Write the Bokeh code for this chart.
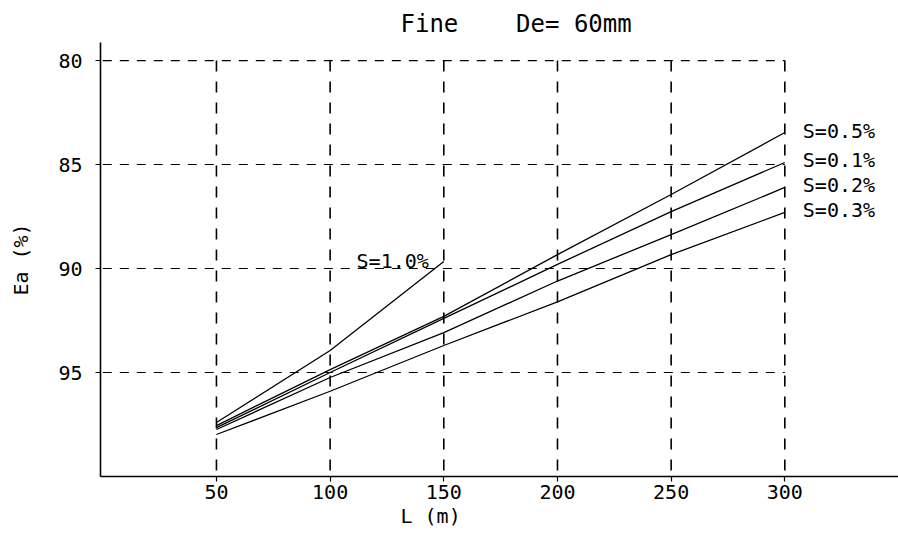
from bokeh.plotting import figure
from bokeh.models import Range1d, FixedTicker, Title, ColumnDataSource
from bokeh.core.properties import value
from bokeh.embed import file_html
from bokeh.resources import INLINE

# ---- data ----
L = [50, 100, 150, 200, 250, 300]
ea_s01 = [97.65, 95.00, 92.40, 89.80, 87.26, 84.90]
ea_s02 = [97.74, 95.24, 93.08, 90.60, 88.37, 86.10]
ea_s03 = [97.98, 95.90, 93.70, 91.60, 89.33, 87.30]
ea_s05 = [97.55, 94.86, 92.30, 89.33, 86.44, 83.46]
L_s10 = [50, 100, 150]
ea_s10 = [97.40, 93.94, 89.66]

right_labels = ["S=0.5%", "S=0.1%", "S=0.2%", "S=0.3%"]
label_s10 = "S=1.0%"

x_ticks = [50, 100, 150, 200, 250, 300]
y_ticks = [80, 85, 90, 95]
x_min, x_max = -1, 350
y_bottom, y_top = 100, 79.13

title_text = "Fine\u00a0\u00a0\u00a0\u00a0De=\u00a060mm"
x_label = "L (m)"
y_label = "Ea (%)"

FONT = "DejaVu Sans Mono"

p = figure(width=898, height=538, output_backend="svg", toolbar_location=None,
           x_range=Range1d(x_min, x_max), y_range=Range1d(y_bottom, y_top),
           min_border_left=100, min_border_right=0, min_border_top=42,
           min_border_bottom=62, background_fill_color="white",
           border_fill_color="white")
p.outline_line_color = None
p.xgrid.visible = False
p.ygrid.visible = False

# title
p.title.text = title_text
p.title.align = "left"
p.title.offset = 300
p.title.text_font = FONT
p.title.text_font_size = "24px"
p.title.text_font_style = "normal"
p.title.text_color = "black"
p.title.standoff = 9

# axes
for ax in (p.xaxis[0], p.yaxis[0]):
    ax.axis_line_color = "black"
    ax.axis_line_width = 1.6
    ax.major_tick_line_color = "black"
    ax.major_tick_line_width = 1.2
    ax.major_tick_in = 0
    ax.major_tick_out = 5
    ax.minor_tick_line_color = None
    ax.major_label_text_font = FONT
    ax.major_label_text_font_size = "20px"
    ax.major_label_text_color = "black"

p.xaxis.ticker = FixedTicker(ticks=x_ticks)
p.yaxis.ticker = FixedTicker(ticks=y_ticks)
p.xaxis.major_label_standoff = 3
p.yaxis.major_label_standoff = 13

p.yaxis.axis_label = y_label
p.yaxis.axis_label_text_font = FONT
p.yaxis.axis_label_text_font_size = "20px"
p.yaxis.axis_label_text_font_style = "normal"
p.yaxis.axis_label_text_color = "black"
p.yaxis.axis_label_standoff = 22

xt = Title(text=x_label, align="left", offset=300, text_font=FONT,
           text_font_size="20px", text_font_style="normal", text_color="black",
           standoff=0)
p.add_layout(xt, "below")

# dashed grid drawn only over the data block
p.segment(x0=[x_min + 1] * len(y_ticks), y0=y_ticks,
          x1=[max(x_ticks)] * len(y_ticks), y1=y_ticks,
          line_color="black", line_width=1.1, line_dash="9 8")
p.segment(x0=x_ticks, y0=[min(y_ticks)] * len(x_ticks),
          x1=x_ticks, y1=[y_bottom] * len(x_ticks),
          line_color="black", line_width=1.6, line_dash="11 10")

# curves
series = [ea_s05, ea_s01, ea_s02, ea_s03]
for ys in series:
    p.line(L, ys, line_color="black", line_width=1.3)
p.line(L_s10, ea_s10, line_color="black", line_width=1.3)

# labels at line ends
src = ColumnDataSource(dict(x=[L[-1]] * len(series), y=[s[-1] for s in series],
                            t=right_labels))
p.text(x="x", y="y", text="t", source=src, x_offset=18, y_offset=-2,
       text_font=value(FONT), text_font_size="20px", text_color="black",
       text_baseline="middle", text_align="left")
src10 = ColumnDataSource(dict(x=[L_s10[-1]], y=[ea_s10[-1]], t=[label_s10]))
p.text(x="x", y="y", text="t", source=src10, x_offset=-15,
       text_font=value(FONT), text_font_size="20px", text_color="black",
       text_baseline="middle", text_align="right")

open("out.html", "w").write(file_html(p, INLINE))
